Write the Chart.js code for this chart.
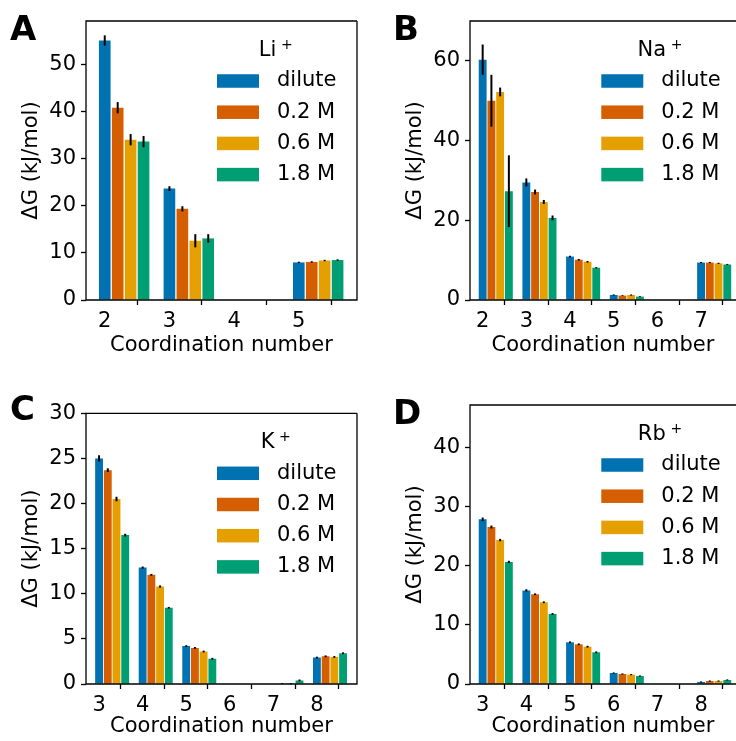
<!DOCTYPE html>
<html>
<head>
<meta charset="utf-8">
<script src="https://cdn.jsdelivr.net/npm/chart.js@4.4.1/dist/chart.umd.min.js"></script>
<style>
  html, body { margin: 0; padding: 0; background: #fff; }
  #wrap { position: relative; width: 736px; height: 741px; }
  #wrap canvas { position: absolute; }
</style>
</head>
<body>
<div id="wrap">
  <canvas id="chartLi" width="368" height="370" style="left:0;top:0"></canvas>
  <canvas id="chartNa" width="368" height="370" style="left:368px;top:0"></canvas>
  <canvas id="chartK" width="368" height="371" style="left:0;top:370px"></canvas>
  <canvas id="chartRb" width="368" height="371" style="left:368px;top:370px"></canvas>
</div>
<script>
// series shared by all four panels
const seriesLabels = ['dilute', '0.2 M', '0.6 M', '1.8 M'];
const seriesColors = ['#0072B2', '#D55E00', '#E69F00', '#009E73'];

// Li+  (rows: dilute, 0.2 M, 0.6 M, 1.8 M)
const liCN = [2, 3, 4, 5];
const liTicks = [0, 10, 20, 30, 40, 50];
const liDG = [
  [55.2, 23.7, 0, 8.0],
  [40.9, 19.4, 0, 8.1],
  [34.1, 12.6, 0, 8.4],
  [33.7, 13.1, 0, 8.5]
];
const liErr = [
  [1.1, 0.5, 0, 0.15],
  [1.2, 0.55, 0, 0.15],
  [1.2, 1.4, 0, 0.15],
  [1.2, 0.9, 0, 0.15]
];

// Na+
const naCN = [2, 3, 4, 5, 6, 7];
const naTicks = [0, 20, 40, 60];
const naDG = [
  [60.3, 29.5, 10.9, 1.25, 0, 9.4],
  [50.0, 27.1, 10.1, 1.1, 0, 9.4],
  [52.2, 24.6, 9.6, 1.25, 0, 9.2],
  [27.3, 20.6, 8.1, 0.85, 0, 8.9]
];
const naErr = [
  [3.8, 1.0, 0.2, 0.15, 0, 0.15],
  [6.5, 0.6, 0.2, 0.1, 0, 0.15],
  [1.1, 0.5, 0.2, 0.15, 0, 0.15],
  [9.0, 0.6, 0.15, 0.1, 0, 0.15]
];

// K+
const kCN = [3, 4, 5, 6, 7, 8];
const kTicks = [0, 5, 10, 15, 20, 25, 30];
const kDG = [
  [25.0, 12.9, 4.2, 0, 0, 2.93],
  [23.7, 12.1, 4.0, 0, 0.05, 3.07],
  [20.5, 10.8, 3.6, 0, 0.03, 3.0],
  [16.5, 8.44, 2.8, 0, 0.4, 3.41]
];
const kErr = [
  [0.35, 0.12, 0.1, 0, 0, 0.1],
  [0.2, 0.1, 0.1, 0, 0.05, 0.1],
  [0.25, 0.12, 0.1, 0, 0.05, 0.1],
  [0.15, 0.1, 0.1, 0, 0.1, 0.1]
];

// Rb+
const rbCN = [3, 4, 5, 6, 7, 8];
const rbTicks = [0, 10, 20, 30, 40];
const rbDG = [
  [27.8, 15.8, 7.04, 1.86, 0, 0.34],
  [26.5, 15.15, 6.7, 1.69, 0, 0.5],
  [24.3, 13.8, 6.3, 1.58, 0, 0.5],
  [20.6, 11.83, 5.35, 1.35, 0, 0.68]
];
const rbErr = [
  [0.3, 0.2, 0.15, 0.1, 0, 0.1],
  [0.25, 0.15, 0.15, 0.1, 0, 0.1],
  [0.2, 0.15, 0.15, 0.1, 0, 0.1],
  [0.2, 0.15, 0.15, 0.1, 0, 0.1]
];

const FS = 21;
const FAMILY = '"DejaVu Sans", sans-serif';

// error bars + axes frame, drawn over the bars
const errorBars = {
  id: 'errorBars',
  afterDatasetsDraw(chart, args, o) {
    const ctx = chart.ctx, ys = chart.scales.y, a = chart.chartArea;
    ctx.save();
    ctx.strokeStyle = '#000';
    ctx.lineWidth = 2;
    chart.data.datasets.forEach((ds, i) => {
      chart.getDatasetMeta(i).data.forEach((bar, j) => {
        const e = ds.errors[j];
        if (!e) return;
        const v = ds.data[j].y;
        ctx.beginPath();
        ctx.moveTo(bar.x, ys.getPixelForValue(v - e));
        ctx.lineTo(bar.x, ys.getPixelForValue(v + e));
        ctx.stroke();
      });
    });
    // frame
    ctx.lineWidth = 1.3;
    ctx.beginPath();
    ctx.moveTo(a.right + (o.rightSpine ? 0 : 2), a.top);
    ctx.lineTo(a.left, a.top);
    ctx.lineTo(a.left, a.bottom);
    ctx.lineTo(a.right + (o.rightSpine ? 0 : 2), a.bottom);
    if (o.rightSpine) ctx.lineTo(a.right, a.top);
    ctx.stroke();
    ctx.restore();
  }
};

// panel letter and legend
const panelDeco = {
  id: 'panelDeco',
  afterDraw(chart, args, o) {
    const ctx = chart.ctx, a = chart.chartArea;
    ctx.save();
    ctx.fillStyle = '#000';
    ctx.textBaseline = 'alphabetic';
    ctx.font = 'bold 34px ' + FAMILY;
    ctx.fillText(o.letter, o.letterX, o.letterY);

    ctx.font = FS + 'px ' + FAMILY;
    const bx = o.legendX, y0 = a.top + 60;
    let wmax = 0;
    chart.data.datasets.forEach((ds, i) => {
      const yc = y0 + i * 31.2;
      ctx.fillStyle = ds.backgroundColor;
      ctx.fillRect(bx, yc - 6.75, 42, 13.5);
      ctx.fillStyle = '#000';
      ctx.textBaseline = 'middle';
      ctx.textAlign = 'left';
      ctx.fillText(ds.label, bx + 60, yc);
      wmax = Math.max(wmax, ctx.measureText(ds.label).width);
    });

    // title: ion + superscript plus
    const cx = bx + (60 + wmax) / 2;
    const base = a.top + 34.5;
    ctx.textBaseline = 'alphabetic';
    ctx.font = FS + 'px ' + FAMILY;
    const w1 = ctx.measureText(o.ion + ' ').width;
    ctx.font = '14px ' + FAMILY;
    const w2 = ctx.measureText('+').width;
    const x0 = cx - (w1 + w2) / 2;
    ctx.font = FS + 'px ' + FAMILY;
    ctx.fillText(o.ion, x0, base);
    ctx.font = '14px ' + FAMILY;
    ctx.fillText('+', x0 + w1 - 2, base - 7);
    ctx.restore();
  }
};

function makePanel(id, cn, vals, errs, yTicks, p) {
  const datasets = seriesLabels.map((label, i) => ({
    label: label,
    data: cn.map((c, j) => ({ x: c + i * 0.2, y: vals[i][j] })),
    errors: errs[i],
    backgroundColor: seriesColors[i],
    borderWidth: 0,
    grouped: false,
    categoryPercentage: 1,
    barPercentage: 0.9
  }));
  return new Chart(document.getElementById(id), {
    type: 'bar',
    data: { datasets: datasets },
    plugins: [errorBars, panelDeco],
    options: {
      responsive: false,
      animation: false,
      layout: { padding: { top: p.top, right: p.right, left: 0, bottom: 0 } },
      plugins: {
        legend: { display: false },
        tooltip: { enabled: false },
        errorBars: { rightSpine: p.right > 0 },
        panelDeco: { letter: p.letter, letterX: p.letterX, letterY: p.letterY, ion: p.ion, legendX: p.legendX }
      },
      scales: {
        x: {
          type: 'linear',
          min: p.xMin,
          max: p.xMax,
          offset: false,
          afterBuildTicks: s => { s.ticks = cn.map(v => ({ value: v })); },
          afterFit: s => { s.height = p.xH; },
          grid: { drawOnChartArea: false, drawTicks: true, tickLength: 5, tickWidth: 1.3, tickColor: '#000' },
          border: { display: false },
          ticks: { color: '#000', padding: 4, maxRotation: 0, font: { family: FAMILY, size: FS } },
          title: { display: true, text: 'Coordination number', color: '#000', padding: { top: 0, bottom: p.xTitlePad }, font: { family: FAMILY, size: FS } }
        },
        y: {
          min: 0,
          max: p.yMax,
          afterBuildTicks: s => { s.ticks = yTicks.map(v => ({ value: v })); },
          afterFit: s => { s.width = p.yW; },
          grid: { drawOnChartArea: false, drawTicks: true, tickLength: 5, tickWidth: 1.3, tickColor: '#000' },
          border: { display: false },
          ticks: { color: '#000', padding: 5, font: { family: FAMILY, size: FS } },
          title: { display: true, text: 'ΔG (kJ/mol)', color: '#000', padding: { top: p.yTitlePad, bottom: 0 }, font: { family: FAMILY, size: FS } }
        }
      }
    }
  });
}

makePanel('chartLi', liCN, liDG, liErr, liTicks, {
  letter: 'A', letterX: 10, letterY: 40, ion: 'Li', legendX: 217,
  top: 21, right: 11, yW: 86, xH: 70, xMin: 1.71, xMax: 5.9, yMax: 59.35,
  xTitlePad: 11.5, yTitlePad: 18.5
});
makePanel('chartNa', naCN, naDG, naErr, naTicks, {
  letter: 'B', letterX: 25, letterY: 40, ion: 'Na', legendX: 233.3,
  top: 21, right: 0, yW: 102, xH: 70, xMin: 1.71, xMax: 7.8, yMax: 70,
  xTitlePad: 11.5, yTitlePad: 35.2
});
makePanel('chartK', kCN, kDG, kErr, kTicks, {
  letter: 'C', letterX: 10, letterY: 50, ion: 'K', legendX: 217,
  top: 43.3, right: 11, yW: 86, xH: 57, xMin: 2.7, xMax: 8.92, yMax: 30,
  xTitlePad: 1.5, yTitlePad: 18.5
});
makePanel('chartRb', rbCN, rbDG, rbErr, rbTicks, {
  letter: 'D', letterX: 25, letterY: 54, ion: 'Rb', legendX: 233.3,
  top: 35, right: 0, yW: 102, xH: 57, xMin: 2.71, xMax: 8.8, yMax: 47.1,
  xTitlePad: 1.5, yTitlePad: 35.2
});
</script>
</body>
</html>
